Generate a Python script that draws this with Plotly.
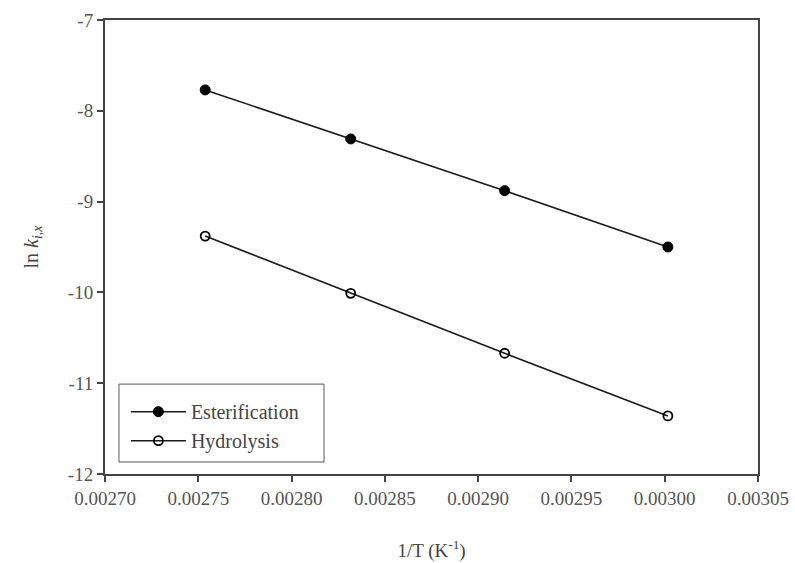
import plotly.graph_objects as go

# Arrhenius data: inverse temperature (1/K) and ln k for each reaction
inv_T = [0.0027537, 0.0028317, 0.0029142, 0.0030017]
ln_k_esterification = [-7.77, -8.31, -8.88, -9.50]
ln_k_hydrolysis = [-9.38, -10.01, -10.67, -11.36]

x_ticks = [0.00270, 0.00275, 0.00280, 0.00285, 0.00290, 0.00295, 0.00300, 0.00305]
x_tick_text = ["0.00270", "0.00275", "0.00280", "0.00285", "0.00290", "0.00295", "0.00300", "0.00305"]
y_ticks = [-12, -11, -10, -9, -8, -7]

FONT = "Liberation Serif, Times New Roman, serif"
INK = "#444444"

fig = go.Figure()
fig.add_trace(go.Scatter(
    x=inv_T, y=ln_k_esterification, mode="lines+markers", name="Esterification",
    line=dict(color="#1a1a1a", width=1.6),
    marker=dict(symbol="circle", size=10, color="#000000", line=dict(color="#000000", width=1)),
))
fig.add_trace(go.Scatter(
    x=inv_T, y=ln_k_hydrolysis, mode="lines+markers", name="Hydrolysis",
    line=dict(color="#1a1a1a", width=1.6),
    marker=dict(symbol="circle-open", size=9, color="#000000", line=dict(color="#000000", width=1.8)),
))

axis_common = dict(
    showline=True, linecolor="#444444", linewidth=2, mirror=True,
    ticks="outside", ticklen=6, tickwidth=1.5, tickcolor="#444444",
    showgrid=False, zeroline=False, automargin=False,
    tickfont=dict(family=FONT, size=19, color="#555555"),
)

fig.update_xaxes(
    range=[0.00270, 0.00305], tickvals=x_ticks, ticktext=x_tick_text,
    title=dict(text="1/T (K<sup>-1</sup>)", font=dict(family=FONT, size=19, color=INK), standoff=36),
    **axis_common,
)
fig.update_yaxes(
    range=[-12, -7], tickvals=y_ticks, ticktext=[str(v) for v in y_ticks],
    title=dict(text="ln <i>k</i><sub><i>i,x</i></sub>", font=dict(family=FONT, size=20, color=INK), standoff=24),
    **axis_common,
)

# Wider frame around the legend entries
fig.add_shape(
    type="rect", xref="paper", yref="paper",
    x0=0.0214, x1=0.3354, y0=0.0264, y1=0.198,
    line=dict(color="#555555", width=1), fillcolor="white", layer="below",
)

fig.update_layout(
    width=795, height=563,
    margin=dict(l=105, r=37, t=20, b=89),
    paper_bgcolor="white", plot_bgcolor="white",
    font=dict(family=FONT, color=INK),
    legend=dict(
        x=0.032, y=0.03, xanchor="left", yanchor="bottom",
        borderwidth=0, bgcolor="rgba(0,0,0,0)",
        font=dict(family=FONT, size=20, color=INK),
        itemwidth=55, tracegroupgap=0,
        title=dict(text=" ", font=dict(size=6)),
    ),
)

fig.write_html("out.html")
